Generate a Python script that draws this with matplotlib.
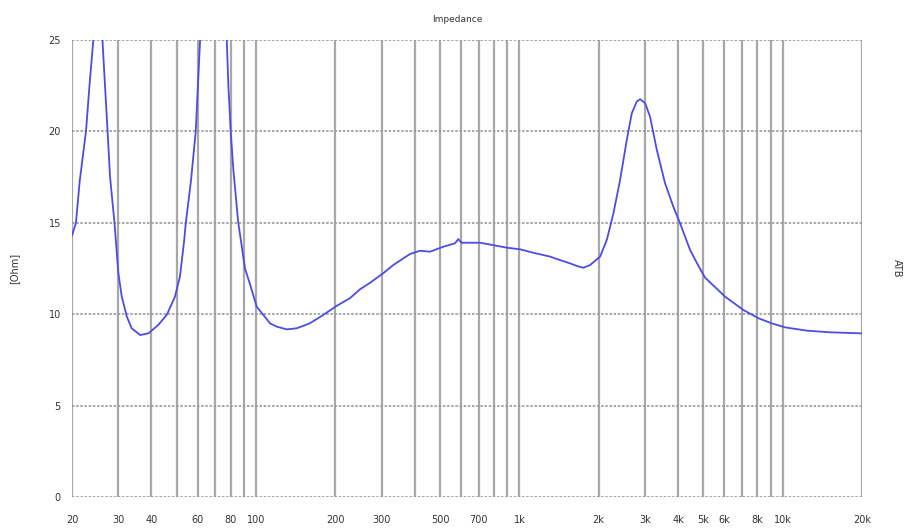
import numpy as np
import matplotlib
matplotlib.use('Agg')
import matplotlib.pyplot as plt
from matplotlib.ticker import FixedLocator, NullFormatter, FixedFormatter

# impedance curve (Hz, Ohm)
freq = [20, 20.7, 21.4, 22.6, 23.3, 24.1, 25.0, 26.1, 27.3, 27.9, 29.0, 30.0, 30.9,
        32.3, 33.7, 36.3, 39.0, 42.5, 45.8, 49.2, 51.4, 53.3, 54.1, 56.6, 59.0, 61.3, 69.0,
        77.4, 78.5, 80.1, 82.0, 85.6, 90.8, 95.0, 100.6, 106.6, 113, 119.8, 130.8,
        142.7, 160, 180, 202, 227, 248, 271, 304, 332, 363, 384, 419, 458, 514, 570,
        586, 604, 709, 895, 1006, 1130, 1308, 1427, 1558, 1652, 1750, 1855, 2025,
        2147, 2274, 2412, 2557, 2672, 2791, 2872, 3002, 3135, 3326, 3575, 3842, 4076,
        4449, 4782, 5072, 6040, 7090, 8084, 9088, 10210, 12342, 15132, 20000]
imp = [14.3, 15.0, 17.3, 20.0, 22.5, 25.0, 30.0, 25.0, 20.0, 17.5, 15.0, 12.24, 10.96,
       9.87, 9.23, 8.86, 8.95, 9.41, 9.96, 10.96, 12.05, 14.0, 15.0, 17.3, 20.0, 25.0, 45.0,
       25.0, 22.5, 20.0, 17.9, 15.0, 12.5, 11.6, 10.41, 9.96, 9.5, 9.32, 9.17,
       9.23, 9.5, 9.96, 10.45, 10.87, 11.36, 11.72, 12.24, 12.69, 13.06, 13.29, 13.47, 13.42, 13.69, 13.88,
       14.11, 13.91, 13.91, 13.64, 13.55, 13.36, 13.15, 12.96, 12.78, 12.64, 12.54, 12.69, 13.15,
       14.06, 15.5, 17.34, 19.53, 20.99, 21.63, 21.76, 21.55, 20.8, 18.98, 17.16, 15.88, 14.97,
       13.51, 12.65, 12.0, 10.96, 10.23, 9.78, 9.50, 9.28, 9.1, 9.01, 8.95]

grid_freqs = [20, 30, 40, 50, 60, 70, 80, 90, 100, 200, 300, 400, 500, 600, 700, 800, 900,
              1000, 2000, 3000, 4000, 5000, 6000, 7000, 8000, 9000, 10000, 20000]
label_freqs = [20, 30, 40, 60, 80, 100, 200, 300, 500, 700, 1000, 2000, 3000, 4000,
               5000, 6000, 8000, 10000, 20000]
label_text = ['20', '30', '40', '60', '80', '100', '200', '300', '500', '700', '1k', '2k',
              '3k', '4k', '5k', '6k', '8k', '10k', '20k']
y_ticks = [0, 5, 10, 15, 20, 25]

fig = plt.figure(figsize=(9.11, 5.32), dpi=100)
ax = fig.add_axes([72/911, 1-497/532, 790/911, 457/532])

ax.plot(freq, imp, color='#4c4ce6', linewidth=1.3)

ax.set_xscale('log')
ax.set_xlim(20, 20000)
ax.set_ylim(0, 25)

ax.xaxis.set_major_locator(FixedLocator(label_freqs))
ax.xaxis.set_major_formatter(FixedFormatter(label_text))
ax.xaxis.set_minor_locator(FixedLocator([]))
ax.xaxis.set_minor_formatter(NullFormatter())
ax.set_yticks(y_ticks)

# grid lines drawn by hand
for f in grid_freqs:
    ax.axvline(f, color='#a8a8a8', linewidth=1.6, zorder=0)
for y in y_ticks:
    ax.axhline(y, color='#999999', linewidth=1.2, linestyle=(0, (1.5, 1)), zorder=0)

for s in ax.spines.values():
    s.set_visible(False)
ax.tick_params(length=0, labelsize=7, colors='#333333', pad=8)
ax.tick_params(axis='x', pad=13)

fig.text(457/911, 1-19/532, 'Impedance', fontsize=6.5, color='#333333',
         ha='center', va='center')
fig.text(14/911, 1-268/532, '[Ohm]', rotation=90, fontsize=7, color='#333333',
         ha='center', va='center')
fig.text(897/911, 1-268/532, 'ATB', rotation=270, fontsize=7, color='#333333',
         ha='center', va='center')

plt.savefig('out.png', dpi=100)
